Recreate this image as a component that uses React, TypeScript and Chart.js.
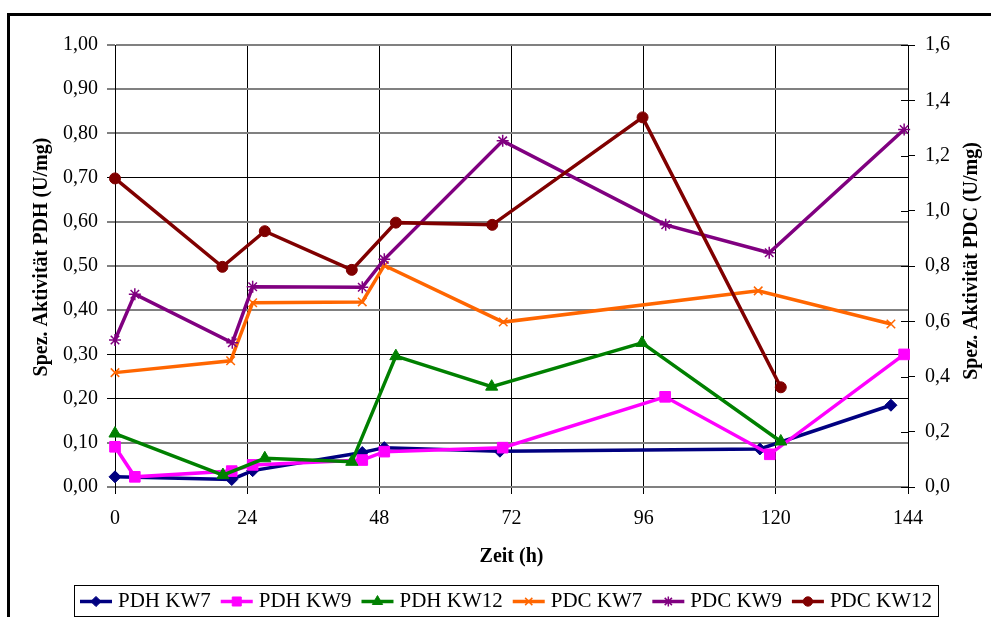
import React, { useEffect, useRef } from 'react';
import { Chart, registerables } from 'chart.js';
import { drawPoint } from 'chart.js/helpers';

Chart.register(...registerables);

// ---------- data ----------
const seriesNames = ['PDH KW7', 'PDH KW9', 'PDH KW12', 'PDC KW7', 'PDC KW9', 'PDC KW12'];

const pdhKw7Time = [0, 21.2, 25, 44.9, 48.9, 69.9, 117.1, 140.9];
const pdhKw7Value = [0.023, 0.017, 0.037, 0.078, 0.089, 0.081, 0.086, 0.185];

const pdhKw9Time = [0, 3.6, 21.2, 25, 44.9, 48.9, 70.4, 99.9, 118.9, 143.3];
const pdhKw9Value = [0.091, 0.023, 0.036, 0.05, 0.061, 0.08, 0.089, 0.204, 0.074, 0.3];

const pdhKw12Time = [0, 19.6, 27.2, 43, 51, 68.4, 95.7, 120.9];
const pdhKw12Value = [0.121, 0.027, 0.065, 0.057, 0.296, 0.227, 0.326, 0.103];

const pdcKw7Time = [0, 21, 25, 44.9, 48.9, 70.5, 116.8, 140.9];
const pdcKw7Value = [0.414, 0.457, 0.667, 0.67, 0.802, 0.597, 0.71, 0.59];

const pdcKw9Time = [0, 3.6, 21.3, 25, 44.9, 48.9, 70.4, 100, 118.8, 143.3];
const pdcKw9Value = [0.532, 0.698, 0.522, 0.725, 0.723, 0.824, 1.253, 0.949, 0.848, 1.294];

const pdcKw12Time = [0, 19.5, 27.2, 43, 51, 68.5, 95.8, 120.9];
const pdcKw12Value = [1.117, 0.797, 0.926, 0.786, 0.957, 0.949, 1.338, 0.361];

const xTickValues = [0, 24, 48, 72, 96, 120, 144];
const leftTickValues = [0, 0.1, 0.2, 0.3, 0.4, 0.5, 0.6, 0.7, 0.8, 0.9, 1.0];
const rightTickValues = [0, 0.2, 0.4, 0.6, 0.8, 1.0, 1.2, 1.4, 1.6];

const xTitle = 'Zeit (h)';
const leftTitle = 'Spez. Aktivität PDH (U/mg)';
const rightTitle = 'Spez. Aktivität PDC (U/mg)';

// ---------- styles ----------
const FONT = '"Liberation Serif", "Times New Roman", serif';
const colors = ['#000080', '#FF00FF', '#008000', '#FF6600', '#800080', '#800000'];
const pointStyles = ['rectRot', 'rect', 'triangle', 'crossRot', 'star', 'circle'];
const pointRadii = [6, 7.5, 7, 6, 6, 5.5];
const axisOf = ['y', 'y', 'y', 'y1', 'y1', 'y1'];

const toPoints = (t: number[], v: number[]) => t.map((x, i) => ({ x, y: v[i] }));

const seriesData = [
  toPoints(pdhKw7Time, pdhKw7Value),
  toPoints(pdhKw9Time, pdhKw9Value),
  toPoints(pdhKw12Time, pdhKw12Value),
  toPoints(pdcKw7Time, pdcKw7Value),
  toPoints(pdcKw9Time, pdcKw9Value),
  toPoints(pdcKw12Time, pdcKw12Value),
];

// gridlines that render as dark thin lines vs. grey double-pixel lines
const darkGrid = new Set([2, 3, 7]);

const decorPlugin = {
  id: 'decor',
  afterDraw(chart: any) {
    const ctx: CanvasRenderingContext2D = chart.ctx;
    const area = chart.chartArea;
    const y1 = chart.scales.y1;
    ctx.save();
    // inner half of right-axis tick marks
    ctx.strokeStyle = '#000';
    ctx.lineWidth = 1;
    y1.ticks.forEach((t: any) => {
      const py = Math.round(y1.getPixelForValue(t.value)) + 0.5;
      ctx.beginPath();
      ctx.moveTo(area.right - 7, py);
      ctx.lineTo(area.right, py);
      ctx.stroke();
    });

    // axis titles
    ctx.fillStyle = '#000';
    ctx.font = `bold 20px ${FONT}`;
    ctx.textAlign = 'center';
    ctx.textBaseline = 'middle';
    ctx.fillText(xTitle, (area.left + area.right) / 2, area.bottom + 70);
    ctx.save();
    ctx.translate(area.left - 73, area.top + 212);
    ctx.rotate(-Math.PI / 2);
    ctx.fillText(leftTitle, 0, 0);
    ctx.restore();
    ctx.save();
    ctx.translate(area.right + 64, area.top + 216);
    ctx.rotate(-Math.PI / 2);
    ctx.fillText(rightTitle, 0, 0);
    ctx.restore();

    // legend
    const boxL = 74, boxT = 585, boxW = 864, boxH = 31;
    ctx.strokeStyle = '#000';
    ctx.lineWidth = 1;
    ctx.strokeRect(boxL + 0.5, boxT + 0.5, boxW, boxH);
    ctx.font = `21px ${FONT}`;
    ctx.textAlign = 'left';
    const sample = 32, gapAfterSample = 6, gapBetween = 10;
    const widths = seriesNames.map((n) => ctx.measureText(n).width);
    const total = widths.reduce((a, b) => a + b, 0) + seriesNames.length * (sample + gapAfterSample) + (seriesNames.length - 1) * gapBetween;
    let x = boxL + (boxW - total) / 2;
    const cy = boxT + boxH / 2 + 1;
    chart.data.datasets.forEach((ds: any, i: number) => {
      ctx.strokeStyle = ds.borderColor;
      ctx.lineWidth = ds.borderWidth;
      ctx.beginPath();
      ctx.moveTo(x, cy);
      ctx.lineTo(x + sample, cy);
      ctx.stroke();
      ctx.fillStyle = ds.pointBackgroundColor;
      ctx.strokeStyle = ds.pointBorderColor;
      ctx.lineWidth = ds.pointBorderWidth;
      drawPoint(ctx, { pointStyle: ds.pointStyle, radius: ds.pointRadius * 0.85, rotation: 0, borderWidth: ds.pointBorderWidth }, x + sample / 2, cy);
      ctx.fillStyle = '#000';
      ctx.fillText(seriesNames[i], x + sample + gapAfterSample, cy);
      x += sample + gapAfterSample + widths[i] + gapBetween;
    });
    ctx.restore();
  },
};

export default function App() {
  const canvasRef = useRef<HTMLCanvasElement | null>(null);

  useEffect(() => {
    if (!canvasRef.current) return;
    Chart.defaults.color = '#000';
    const datasets = seriesNames.map((name, i) => ({
      label: name,
      data: seriesData[i],
      yAxisID: axisOf[i],
      borderColor: colors[i],
      backgroundColor: colors[i],
      pointBackgroundColor: colors[i],
      pointBorderColor: colors[i],
      pointBorderWidth: i >= 3 && i <= 4 ? 1.5 : 1,
      pointStyle: pointStyles[i],
      pointRadius: pointRadii[i],
      borderWidth: 3.5,
      tension: 0,
      fill: false,
      clip: false,
      order: seriesNames.length - i,
    }));

    const chart = new Chart(canvasRef.current, {
      type: 'line',
      data: { datasets },
      plugins: [decorPlugin],
      options: {
        animation: false,
        responsive: false,
        devicePixelRatio: 1,
        layout: { padding: { top: 45, left: 0, right: 0, bottom: 0 } },
        plugins: { legend: { display: false }, tooltip: { enabled: false } },
        scales: {
          x: {
            type: 'linear',
            min: 0,
            max: 144,
            afterBuildTicks: (s: any) => { s.ticks = xTickValues.map((v) => ({ value: v })); },
            afterFit: (s: any) => { s.height = 130; },
            ticks: { font: { family: FONT, size: 20 }, padding: 13, color: '#000', maxRotation: 0 },
            grid: { color: '#000', lineWidth: 1, tickLength: 7, tickColor: '#000' },
            border: { display: false },
          },
          y: {
            type: 'linear',
            position: 'left',
            min: 0,
            max: 1,
            afterBuildTicks: (s: any) => { s.ticks = leftTickValues.map((v) => ({ value: v })); },
            afterFit: (s: any) => { s.width = 115; },
            ticks: {
              font: { family: FONT, size: 20 },
              padding: 9,
              color: '#000',
              callback: (v: any) => Number(v).toFixed(2).replace('.', ','),
            },
            grid: {
              color: (c: any) => (darkGrid.has(c.index) ? '#000' : '#808080'),
              lineWidth: (c: any) => (darkGrid.has(c.index) ? 1 : 2),
              tickLength: 8,
              tickColor: '#000',
              tickWidth: 1,
            },
            border: { display: true, color: '#000', width: 1 },
          },
          y1: {
            type: 'linear',
            position: 'right',
            min: 0,
            max: 1.6,
            afterBuildTicks: (s: any) => { s.ticks = rightTickValues.map((v) => ({ value: v })); },
            afterFit: (s: any) => { s.width = 83; },
            ticks: {
              font: { family: FONT, size: 20 },
              padding: 10,
              color: '#000',
              callback: (v: any) => Number(v).toFixed(1).replace('.', ','),
            },
            grid: { drawOnChartArea: false, tickLength: 7, tickColor: '#000', tickWidth: 1 },
            border: { display: true, color: '#000', width: 1 },
          },
        },
      },
    } as any);
    return () => chart.destroy();
  }, []);

  return (
    <div style={{ position: 'absolute', left: 0, top: 0, width: 991, height: 617, overflow: 'hidden', background: '#fff' }}>
      <div
        style={{
          position: 'absolute',
          left: 7,
          top: 13,
          width: 1000,
          height: 620,
          borderTop: '3px solid #000',
          borderLeft: '3px solid #000',
        }}
      />
      <canvas ref={canvasRef} width={991} height={617} style={{ position: 'absolute', left: 0, top: 0, width: 991, height: 617, display: 'block' }} />
    </div>
  );
}
